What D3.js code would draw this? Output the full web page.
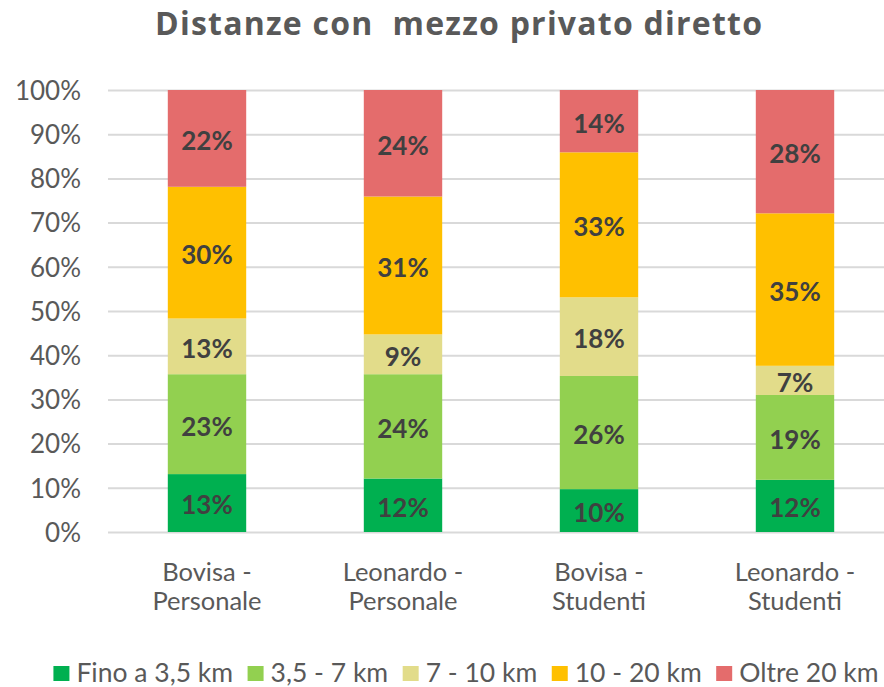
<!DOCTYPE html>
<html>
<head>
<meta charset="utf-8">
<script src="https://cdn.jsdelivr.net/npm/d3@7"></script>
<style>
  body { margin: 0; background: #fff; }
  svg { display: block; font-family: Lato, "Open Sans", sans-serif; }
</style>
</head>
<body>
<div id="chart"></div>
<script>
const categories = ["Bovisa - Personale", "Leonardo - Personale", "Bovisa - Studenti", "Leonardo - Studenti"]
const seriesNames = ["Fino a 3,5 km", "3,5 - 7 km", "7 - 10 km", "10 - 20 km", "Oltre 20 km"]
const seriesColors = ["#00B050", "#92D050", "#E2DC8A", "#FFC000", "#E46C6C"]
// share per category (percent), one array per series
const fino35 = [13.1, 12.1, 9.7, 11.8]
const da35a7 = [22.6, 23.6, 25.6, 19.2]
const da7a10 = [12.6, 9.0, 17.8, 6.6]
const da10a20 = [29.8, 31.2, 32.8, 34.5]
const oltre20 = [21.9, 24.1, 14.1, 27.9]
const yTicks = [0, 10, 20, 30, 40, 50, 60, 70, 80, 90, 100]

const W = 884, H = 687
const PLOT = { LEFT: 109, RIGHT: 893, TOP: 90, BOTTOM: 532 }
const TEXT = "#595959"

const seriesValues = [fino35, da35a7, da7a10, da10a20, oltre20]
const rows = categories.map((c, i) => {
	const r = { cat: c }
	seriesNames.forEach((s, j) => { r[s] = seriesValues[j][i] })
	return r
})

const svg = d3.select("#chart").append("svg")
	.attr("width", W)
	.attr("height", H)

const x = d3.scaleBand()
	.domain(categories)
	.range([PLOT.LEFT, PLOT.RIGHT])
	.paddingInner(0.6)
	.paddingOuter(0.3)

const y = d3.scaleLinear()
	.domain([0, 100])
	.range([PLOT.BOTTOM, PLOT.TOP])

// title
svg.append("text")
	.attr("x", 155)
	.attr("y", 35)
	.attr("font-size", 32)
	.attr("font-weight", "bold")
	.attr("font-family", "'Open Sans', sans-serif")
	.attr("fill", TEXT)
	.attr("textLength", 607)
	.attr("lengthAdjust", "spacing")
	.attr("xml:space", "preserve")
	.text("Distanze con  mezzo privato diretto")

// gridlines + y labels
const yAxis = d3.axisLeft(y)
	.tickValues(yTicks)
	.tickSize(-(W - PLOT.LEFT + 1))
	.tickFormat(d => d + "%")

svg.append("g")
	.attr("transform", `translate(${PLOT.LEFT - 1}, 0)`)
	.call(yAxis)
	.call(g => g.select(".domain").remove())
	.call(g => g.selectAll("line").attr("stroke", "#D9D9D9").attr("stroke-width", 2))
	.call(g => g.selectAll("text")
		.attr("x", -27)
		.attr("dy", "0.36em")
		.attr("font-size", 26)
		.attr("font-family", "Lato, sans-serif")
		.attr("fill", TEXT))

// stacked bars
const stack = d3.stack().keys(seriesNames)(rows)

const layers = svg.append("g").selectAll("g")
	.data(stack)
	.join("g")
		.attr("fill", (d, i) => seriesColors[i])

layers.selectAll("rect")
	.data(d => d)
	.join("rect")
		.attr("x", d => x(d.data.cat))
		.attr("width", x.bandwidth())
		.attr("y", d => y(d[1]))
		.attr("height", d => y(d[0]) - y(d[1]))

layers.selectAll("text")
	.data(d => d.map(v => ({ v, key: d.key })))
	.join("text")
		.attr("x", d => x(d.v.data.cat) + x.bandwidth() / 2)
		.attr("y", d => (y(d.v[0]) + y(d.v[1])) / 2 + 2)
		.attr("dy", "0.36em")
		.attr("text-anchor", "middle")
		.attr("font-size", 26)
		.attr("font-weight", "bold")
		.attr("fill", "#404040")
		.text(d => Math.round(d.v.data[d.key]) + "%")

// category labels, two lines each
const catLabels = svg.append("g").selectAll("text")
	.data(categories)
	.join("text")
		.attr("text-anchor", "middle")
		.attr("font-size", 25.5)
		.attr("fill", TEXT)

catLabels.each(function (c) {
	const parts = c.split(" - ")
	const t = d3.select(this)
	const cx = x(c) + x.bandwidth() / 2
	t.append("tspan").attr("x", cx).attr("y", 581).text(parts[0] + " -")
	t.append("tspan").attr("x", cx).attr("y", 610).text(parts[1])
})

// legend
const legend = svg.append("g")
let lx = 0
seriesNames.forEach((s, i) => {
	const item = legend.append("g").attr("transform", `translate(${lx}, 0)`)
	item.append("rect")
		.attr("x", 0)
		.attr("y", 666)
		.attr("width", 16)
		.attr("height", 15)
		.attr("fill", seriesColors[i])
	const t = item.append("text")
		.attr("x", 23)
		.attr("y", 682)
		.attr("font-size", 26.5)
		.attr("fill", TEXT)
		.text(s)
	lx += 23 + t.node().getComputedTextLength() + 14.5
})
const legendW = lx - 14.5
legend.attr("transform", `translate(${466 - legendW / 2}, 0)`)
</script>
</body>
</html>
